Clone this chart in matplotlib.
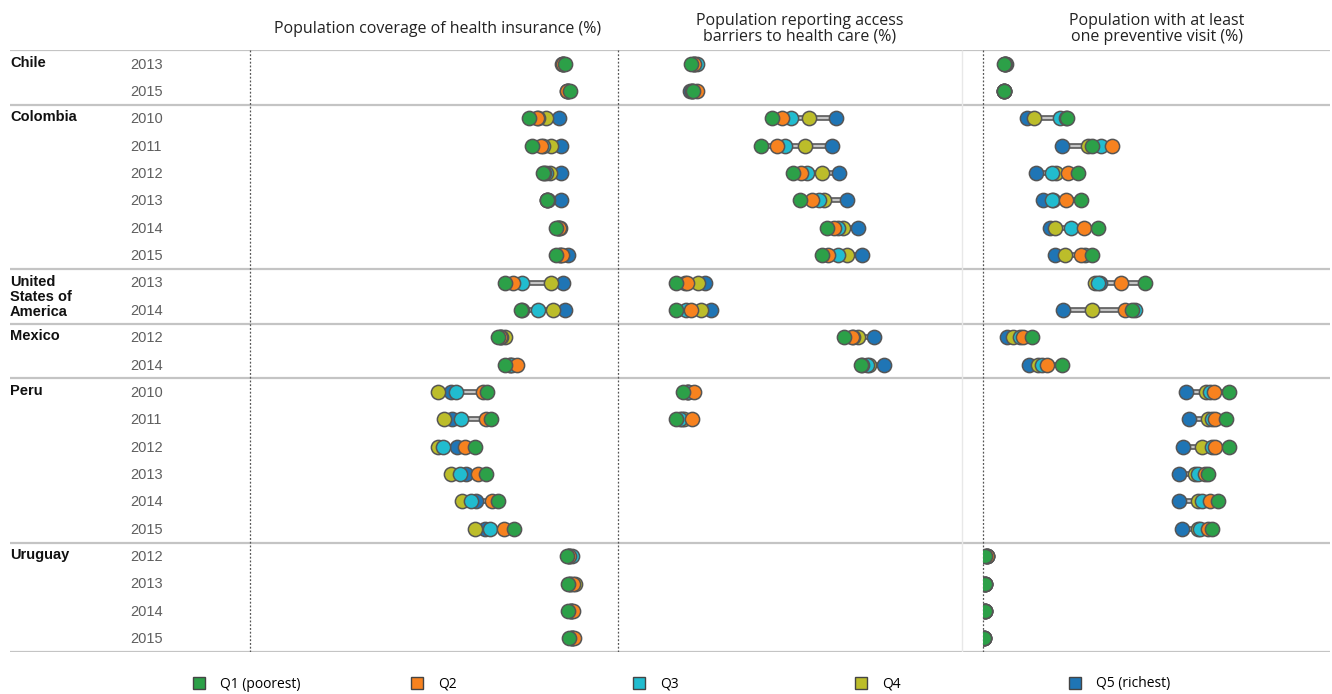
import matplotlib.pyplot as plt
from matplotlib.patches import Patch

# rows of the table: one per country-year
countries = ['Chile', 'Colombia', 'United\nStates of\nAmerica', 'Mexico', 'Peru', 'Uruguay']
country_years = [[2013, 2015],
                 [2010, 2011, 2012, 2013, 2014, 2015],
                 [2013, 2014],
                 [2012, 2014],
                 [2010, 2011, 2012, 2013, 2014, 2015],
                 [2012, 2013, 2014, 2015]]

quintiles = ['Q1 (poorest)', 'Q2', 'Q3', 'Q4', 'Q5 (richest)']
q_colors = ['#2ca048', '#f7821f', '#21bccf', '#bcbd2a', '#1f75b5']

panel_titles = ['Population coverage of health insurance (%)',
                'Population reporting access\nbarriers to health care (%)',
                'Population with at least\none preventive visit (%)']

# values per row: [Q1, Q2, Q3, Q4, Q5]
coverage = [
    [85.6, 85.1, 85.1, 85.1, 84.8],
    [87.0, 86.1, 86.4, 86.4, 86.1],
    [75.9, 78.1, 78.3, 80.4, 84.0],
    [76.5, 79.0, 79.7, 81.8, 84.5],
    [79.7, 79.9, 80.4, 81.5, 84.5],
    [80.6, 80.7, 80.8, 81.0, 84.5],
    [83.2, 84.0, 83.7, 83.7, 84.2],
    [83.2, 84.7, 84.2, 84.2, 86.5],
    [69.3, 71.5, 73.8, 81.7, 85.1],
    [73.6, 73.9, 78.2, 82.3, 85.6],
    [67.3, 67.9, 68.2, 69.3, 68.2],
    [69.3, 72.5, 71.1, 70.7, 70.7],
    [64.5, 63.4, 56.0, 51.2, 54.5],
    [65.5, 64.1, 57.3, 52.8, 54.8],
    [61.1, 58.4, 52.4, 51.0, 56.2],
    [64.1, 62.0, 57.1, 54.5, 58.6],
    [67.3, 65.7, 60.0, 57.7, 61.4],
    [71.8, 69.1, 65.2, 61.1, 63.9],
    [86.1, 86.7, 87.4, 86.7, 86.7],
    [86.3, 87.7, 87.0, 88.3, 87.0],
    [86.3, 87.9, 87.2, 87.2, 87.2],
    [86.8, 88.0, 87.5, 87.5, 87.5],
]

barriers = [
    [20.0, 20.8, 21.6, 20.8, 20.8],
    [20.5, 21.6, 20.3, 20.3, 19.7],
    [42.1, 44.8, 47.4, 52.3, 59.7],
    [39.1, 43.5, 45.8, 51.2, 58.5],
    [48.0, 50.1, 51.7, 55.8, 60.5],
    [49.9, 53.1, 55.2, 56.5, 62.7],
    [57.2, 59.3, 60.3, 61.7, 65.7],
    [56.0, 57.6, 60.2, 62.8, 66.9],
    [15.9, 18.8, 18.4, 21.8, 23.8],
    [15.9, 20.0, 18.6, 22.7, 25.4],
    [62.0, 64.0, 64.4, 65.8, 70.1],
    [66.5, 66.8, 68.3, 68.8, 72.9],
    [17.8, 20.8, 19.2, 19.2, 18.9],
    [15.9, 20.3, 17.0, 18.1, 17.5],
    None, None, None, None,
    None, None, None, None,
]

preventive = [
    [6.0, 6.3, 6.6, 6.3, 6.3],
    [6.0, 6.0, 6.0, 6.0, 6.0],
    [24.2, 23.8, 22.1, 14.7, 12.5],
    [31.3, 37.0, 33.7, 30.1, 22.6],
    [27.1, 24.4, 19.7, 20.9, 15.1],
    [28.1, 23.8, 19.8, 20.1, 17.3],
    [33.0, 28.9, 25.2, 20.6, 19.2],
    [31.3, 28.0, 29.2, 23.5, 20.6],
    [46.4, 39.5, 33.0, 32.1, 33.5],
    [42.6, 40.7, 43.6, 31.1, 23.0],
    [14.0, 11.4, 10.6, 8.7, 6.8],
    [22.6, 18.3, 16.9, 15.8, 13.2],
    [70.5, 66.2, 65.0, 63.9, 58.2],
    [69.6, 66.5, 65.6, 64.6, 58.9],
    [70.5, 66.5, 65.6, 62.7, 57.4],
    [64.6, 63.6, 61.5, 60.7, 56.2],
    [67.2, 65.0, 62.8, 61.7, 56.2],
    [65.7, 64.4, 62.2, 61.5, 56.9],
    [0.6, 1.1, 1.1, 1.1, 1.1],
    [0.6, 0.6, 0.6, 0.6, 0.6],
    [0.6, 0.6, 0.6, 0.6, 0.6],
    [0.3, 0.3, 0.3, 0.3, 0.3],
]

W, H = 1332, 694
TOP, BOT = 50, 652
panel_px = [(250, 618), (618, 983), (983, 1332)]
title_x = [438, 800, 1157]
legend_x = [193, 411, 633, 855, 1069]
title_font = ['Open Sans', 'DejaVu Sans']
label_font = ['Liberation Sans', 'DejaVu Sans']

n_rows = sum(len(y) for y in country_years)
ylim = (n_rows - 0.5, -0.5)

fig = plt.figure(figsize=(W / 100, H / 100), dpi=100)
ax_h = (BOT - TOP) / H
ax_b = 1 - BOT / H

# background axes in pixel x units for rules and row labels
bg = fig.add_axes([0, ax_b, 1, ax_h])
bg.set_xlim(0, W)
bg.set_ylim(*ylim)
bg.axis('off')

row = 0
seps = [-0.5]
for country, years in zip(countries, country_years):
    bg.text(10, row - 0.29, country, ha='left', va='top', fontsize=10.5, fontweight='bold',
            family=label_font, color='#111111', linespacing=1.12)
    for j, yr in enumerate(years):
        bg.text(130, row + j + 0.03, str(yr), ha='left', va='center', fontsize=10.5,
                family=label_font, color='#5e5e5e')
    row += len(years)
    seps.append(row - 0.5)
bg.hlines(seps, 10, 1330, color='#c4c4c4', lw=1.6)
bg.vlines([250, 618, 983], -0.5, n_rows - 0.5, color='#555555', lw=0.9,
          linestyles=(0, (1.5, 1.5)))
bg.vlines([962], -0.5, n_rows - 0.5, color='#e8e8e8', lw=1)

for p, (data, (x0, x1)) in enumerate(zip([coverage, barriers, preventive], panel_px)):
    ax = fig.add_axes([x0 / W, ax_b, (x1 - x0) / W, ax_h])
    ax.set_xlim(0, 100)
    ax.set_ylim(*ylim)
    ax.axis('off')
    ax.patch.set_alpha(0)
    for i, vals in enumerate(data):
        if vals is None:
            continue
        lo, hi = min(vals), max(vals)
        ax.plot([lo, hi], [i, i], color='#6a6a6a', lw=4.2, solid_capstyle='butt', zorder=2)
        ax.plot([lo, hi], [i, i], color='#cfcfcf', lw=1.3, solid_capstyle='butt', zorder=2.1)
    # richest drawn first, poorest on top
    for q in range(4, -1, -1):
        xs = [v[q] for v in data if v is not None]
        ys = [i for i, v in enumerate(data) if v is not None]
        ax.scatter(xs, ys, s=105, color=q_colors[q], edgecolors='#555555', linewidths=1.1,
                   zorder=3 + (4 - q))
    fig.text(title_x[p] / W, 1 - 29 / H, panel_titles[p], ha='center', va='center',
             fontsize=11.5, family=title_font, color='#222222', linespacing=0.98)

for q in range(5):
    h = Patch(facecolor=q_colors[q], edgecolor='#444444', lw=1)
    fig.legend(handles=[h], labels=[quintiles[q]], loc='center left',
               bbox_to_anchor=(legend_x[q] / W, 1 - 684 / H), frameon=False,
               borderpad=0, borderaxespad=0, handlelength=0.85, handleheight=1.0,
               handletextpad=1.1, prop={'family': title_font, 'size': 10})

fig.savefig('out.png', dpi=100)
